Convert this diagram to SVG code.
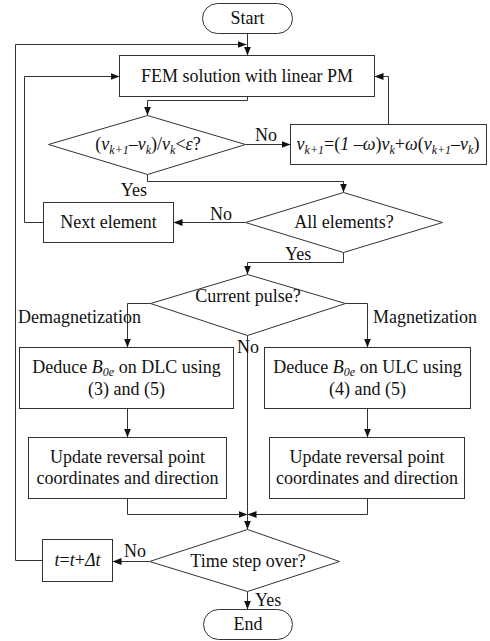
<svg xmlns="http://www.w3.org/2000/svg" width="490" height="641" viewBox="0 0 490 641">
  <style>
    .box { fill: #fff; stroke: #333; stroke-width: 1; }
    .wire { fill: none; stroke: #333; stroke-width: 1; }
    text { font-family: "Liberation Serif", "Times New Roman", serif; font-size: 18px; fill: #111; }
    .c { text-anchor: middle; }
    .i { font-style: italic; }
    .s { font-size: 12px; }
  </style>
  <defs>
    <marker id="arrow" markerUnits="userSpaceOnUse" markerWidth="10" markerHeight="8" refX="9" refY="3.5" orient="auto">
      <path d="M0,0 L9,3.5 L0,7 z" fill="#111"/>
    </marker>
  </defs>
  <rect width="490" height="641" fill="#fff"/>

  <!-- connectors -->
  <g id="connectors" class="wire" marker-end="url(#arrow)">
    <path d="M247.5,33.5 V55.5"/>
    <path d="M42.5,560.5 H15.5 V44.5 H246.5"/>
    <path d="M247.5,96.5 V100.5 H147.5 V115.5"/>
    <path d="M245.5,144.5 H290.5"/>
    <path d="M388.5,124.5 V76.5 H374.5"/>
    <path d="M147.5,174.5 V181.5 H343.5 V192.5"/>
    <path d="M245.5,222.5 H173.5"/>
    <path d="M43.5,222.5 H24.5 V76.5 H119.5"/>
    <path d="M343.5,252.5 V262.5 H247.5 V274.5"/>
    <path d="M150.5,303.5 H127.5 V347.5"/>
    <path d="M345.5,303.5 H367.5 V347.5"/>
    <path d="M127.5,408.5 V437.5"/>
    <path d="M367.5,408.5 V437.5"/>
    <path d="M127.5,498.5 V514.5 H247.5"/>
    <path d="M367.5,498.5 V514.5 H247.5"/>
    <path d="M247.5,335.5 V514.5" marker-end="none"/>
    <path d="M247.5,514.5 V529.5"/>
    <path d="M149.5,561.5 H112.5"/>
    <path d="M247.5,591.5 V609.5"/>
  </g>

  <!-- edge labels -->
  <g id="labels">
    <text x="255" y="141">No</text>
    <text x="147" y="196" text-anchor="end">Yes</text>
    <text x="210" y="220">No</text>
    <text x="285" y="260">Yes</text>
    <text x="18" y="323">Demagnetization</text>
    <text x="373" y="323">Magnetization</text>
    <text x="237" y="353">No</text>
    <text x="124" y="557">No</text>
    <text x="255" y="606">Yes</text>
  </g>

  <g id="start">
    <rect class="box" x="202.5" y="3.5" width="90" height="30" rx="15"/>
    <text class="c" x="247.5" y="24">Start</text>
  </g>

  <g id="fem">
    <rect class="box" x="119.5" y="55.5" width="255" height="41"/>
    <text class="c" x="247" y="82">FEM solution with linear PM</text>
  </g>

  <g id="converged">
    <polygon class="box" points="147.5,115.5 245.5,144.5 147.5,174.5 48.5,144.5"/>
    <text class="c" x="148" y="150">(<tspan class="i">v</tspan><tspan class="i s" dy="4">k+1</tspan><tspan dy="-4">–</tspan><tspan class="i">v</tspan><tspan class="i s" dy="4">k</tspan><tspan dy="-4">)/</tspan><tspan class="i">v</tspan><tspan class="i s" dy="4">k</tspan><tspan dy="-4">&lt;</tspan><tspan class="i">ε</tspan>?</text>
  </g>

  <g id="relax">
    <rect class="box" x="290.5" y="124.5" width="196" height="40"/>
    <text class="c" x="388" y="150"><tspan class="i">v</tspan><tspan class="i s" dy="4">k+1</tspan><tspan dy="-4">=(</tspan><tspan class="i">1</tspan> –<tspan class="i">ω</tspan>)<tspan class="i">v</tspan><tspan class="i s" dy="4">k</tspan><tspan dy="-4">+</tspan><tspan class="i">ω</tspan>(<tspan class="i">v</tspan><tspan class="i s" dy="4">k+1</tspan><tspan dy="-4">–</tspan><tspan class="i">v</tspan><tspan class="i s" dy="4">k</tspan><tspan dy="-4">)</tspan></text>
  </g>

  <g id="all-elements">
    <polygon class="box" points="343.5,192.5 442.5,222.5 343.5,252.5 245.5,222.5"/>
    <text class="c" x="344" y="228">All elements?</text>
  </g>

  <g id="next-element">
    <rect class="box" x="43.5" y="202.5" width="130" height="40"/>
    <text class="c" x="108.5" y="228">Next element</text>
  </g>

  <g id="current-pulse">
    <polygon class="box" points="247.5,274.5 345.5,303.5 247.5,335.5 150.5,303.5"/>
    <text class="c" x="248" y="302">Current pulse?</text>
  </g>

  <g id="deduce-dlc">
    <rect class="box" x="19.5" y="347.5" width="214" height="61"/>
    <text class="c" x="126.5" y="373">Deduce <tspan class="i">B</tspan><tspan class="i s" dy="3">0e</tspan><tspan dy="-3"> on DLC using</tspan></text>
    <text class="c" x="126.5" y="395">(3) and (5)</text>
  </g>

  <g id="deduce-ulc">
    <rect class="box" x="264.5" y="347.5" width="206" height="61"/>
    <text class="c" x="367.5" y="373">Deduce <tspan class="i">B</tspan><tspan class="i s" dy="3">0e</tspan><tspan dy="-3"> on ULC using</tspan></text>
    <text class="c" x="367.5" y="395">(4) and (5)</text>
  </g>

  <g id="update-left">
    <rect class="box" x="28.5" y="437.5" width="198" height="61"/>
    <text class="c" x="127.5" y="463">Update reversal point</text>
    <text class="c" x="127.5" y="484">coordinates and direction</text>
  </g>

  <g id="update-right">
    <rect class="box" x="269.5" y="437.5" width="195" height="61"/>
    <text class="c" x="367" y="463">Update reversal point</text>
    <text class="c" x="367" y="484">coordinates and direction</text>
  </g>

  <g id="time-step">
    <polygon class="box" points="247.5,529.5 339.5,561.5 247.5,591.5 149.5,561.5"/>
    <text class="c" x="248" y="567">Time step over?</text>
  </g>

  <g id="time-increment">
    <rect class="box" x="42.5" y="539.5" width="70" height="42"/>
    <text class="c" x="77.5" y="566"><tspan class="i">t</tspan>=<tspan class="i">t</tspan>+<tspan class="i">Δt</tspan></text>
  </g>

  <g id="end">
    <rect class="box" x="203.5" y="609.5" width="89" height="30" rx="15"/>
    <text class="c" x="248" y="630">End</text>
  </g>
</svg>
